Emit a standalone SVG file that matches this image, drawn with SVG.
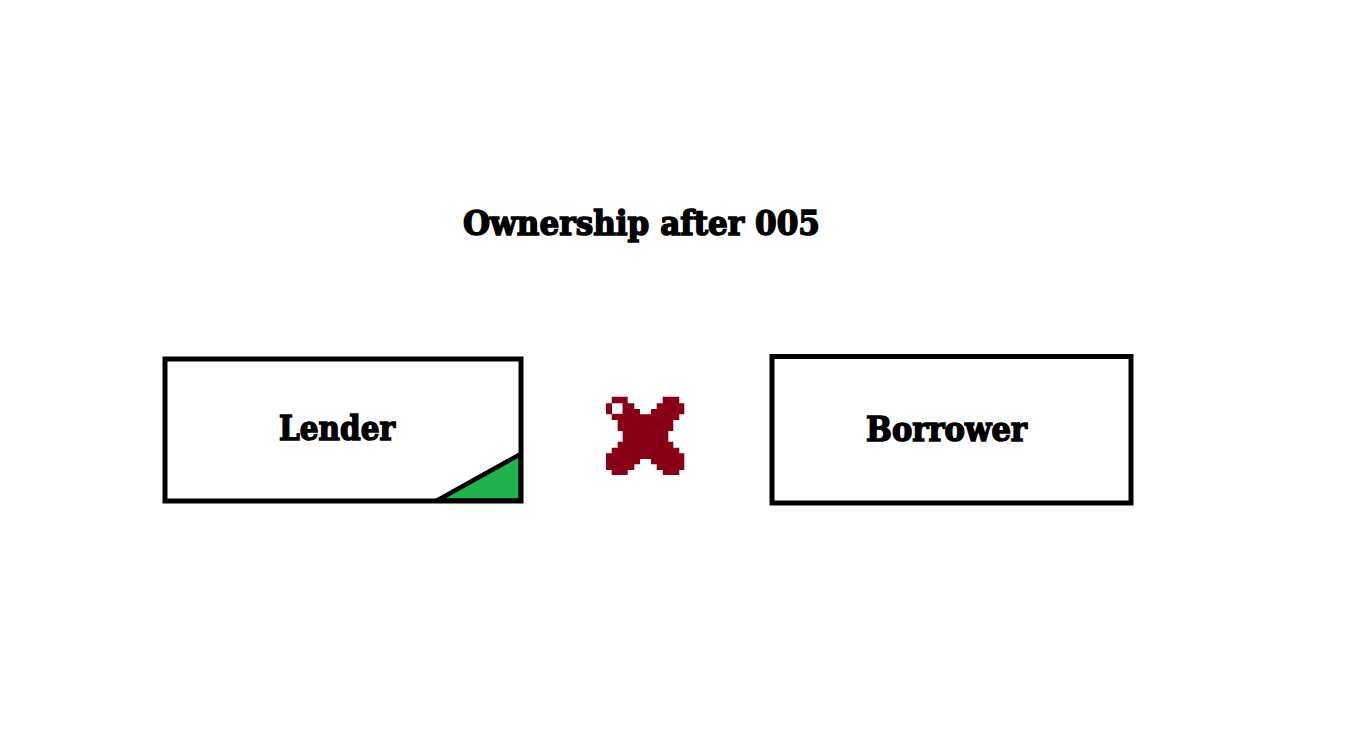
<svg xmlns="http://www.w3.org/2000/svg" width="1351" height="747" viewBox="0 0 1351 747">
<style>
.t{font-family:"DejaVu Serif","Liberation Serif",serif;font-weight:bold;font-size:34px;fill:#000;stroke:#000;stroke-width:1.6}
.box{fill:#fff;stroke:#000;stroke-width:5}
</style>
<rect width="1351" height="747" fill="#fff"/>
<g id="title"><text class="t" x="463" y="235" textLength="357" lengthAdjust="spacingAndGlyphs">Ownership after 005</text></g>
<g id="lender">
<rect class="box" x="165" y="359" width="356" height="142"/>
<polygon points="437,500.5 520.5,454 520.5,500.5" fill="#22B14C" stroke="#000" stroke-width="4.5" stroke-linejoin="miter"/>
<text class="t" x="279" y="440" textLength="116" lengthAdjust="spacingAndGlyphs">Lender</text>
</g>
<g id="cross">
<polygon fill="#880015" points="611.7,396.7 627.7,396.7 627.7,403.3 634.3,403.3 634.3,409 640,409 640,414.3 651,414.3 651,409 656.7,409 656.7,403.3 662.7,403.3 662.7,396.7 679.3,396.7 679.3,403.3 684.3,403.3 684.3,414.3 679.3,414.3 679.3,420 673.3,420 673.3,431 668.3,431 668.3,441.7 673.3,441.7 673.3,447.7 679.3,447.7 679.3,453.3 684.3,453.3 684.3,470 679.3,470 679.3,475 662.7,475 662.7,470 656.7,470 656.7,464.3 651,464.3 651,459 640,459 640,464.3 634.3,464.3 634.3,470 627.7,470 627.7,475 611.7,475 611.7,470 606,470 606,453.3 611.7,453.3 611.7,447.7 617.7,447.7 617.7,441.7 622.7,441.7 622.7,431 617.7,431 617.7,420 611.7,420 611.7,414.3 606,414.3 606,403.3 611.7,403.3"/>
<rect x="612" y="403.3" width="10.5" height="10.5" fill="#fff"/>
</g>
<g id="borrower">
<rect class="box" x="772" y="356.5" width="359" height="146.5"/>
<text class="t" x="866" y="441" textLength="161" lengthAdjust="spacingAndGlyphs">Borrower</text>
</g>
<g id="connectors"></g>
</svg>
